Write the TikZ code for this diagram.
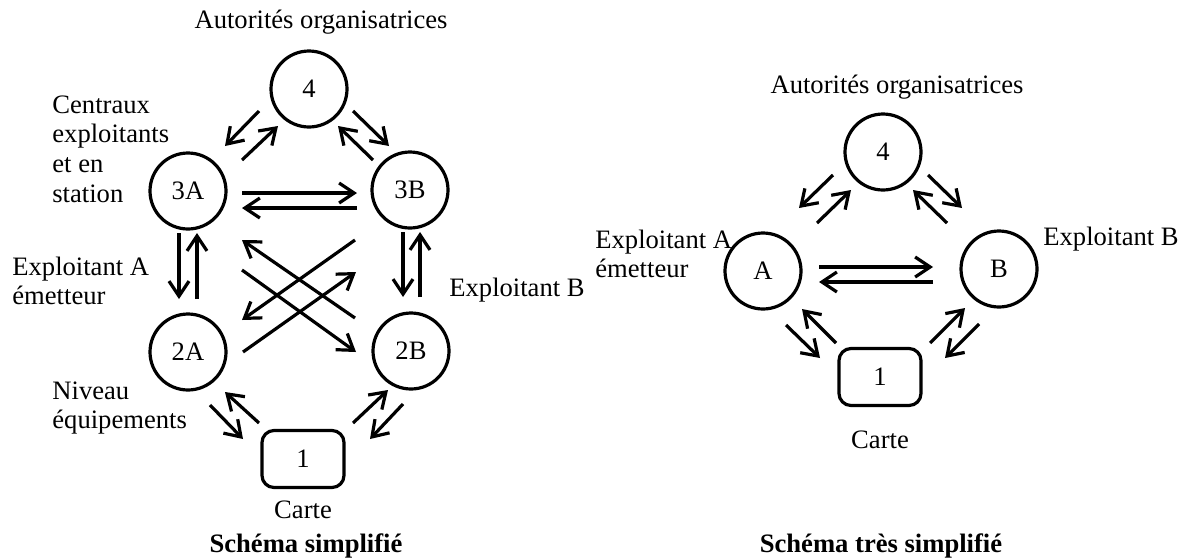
\documentclass[tikz,border=0pt]{standalone}
\usepackage{fontspec}
\setmainfont{Liberation Serif}
\usetikzlibrary{arrows.meta}
\tikzset{
  etat/.style={circle,draw,line width=1.6pt,minimum size=38pt,inner sep=0pt},
  carte/.style={rectangle,draw,rounded corners=6pt,line width=1.6pt,minimum width=41pt,minimum height=28.5pt},
  fleche/.style={line width=1.6pt,-{Straight Barb[length=7.5pt,width=10pt]}},
  legende/.style={align=left,inner sep=0pt,anchor=west},
  titre/.style={font=\fontsize{13.3}{14.8}\selectfont\bfseries}
}
\begin{document}
\begin{tikzpicture}[x=0.5pt,y=-0.5pt,font=\fontsize{13.3}{14.8}\selectfont]
        \useasboundingbox (0,0) rectangle (1182,558);

        % schema simplifie
        \node (l4) at (309,89) [etat] {4};
        \node (la3) at (188,191) [etat] {3A};
        \node (lb3) at (410,190) [etat] {3B};
        \node (la2) at (188,352) [etat] {2A};
        \node (lb2) at (411,351) [etat] {2B};
        \node (l1) at (303,459) [carte] {1};

        \node (ltaut) at (321,22) {Autorités organisatrices};
        \node (ltcen) at (52,149) [legende] {Centraux\\exploitants\\et en\\station};
        \node (ltexa) at (12,281) [legende] {Exploitant A\\émetteur};
        \node (ltniv) at (52,408) [legende] {Niveau\\équipements};
        \node (ltexb) at (449,290) [legende] {Exploitant B};
        \node (ltcar) at (303,510) {Carte};
        \node (lttit) at (306,546) [titre] {Schéma simplifié};

        \draw[fleche] ([shift={(-50,22)}]l4.center) -- ([shift={(37,-45)}]la3.center);
        \draw[fleche] ([shift={(54,-31)}]la3.center) -- ([shift={(-31,37)}]l4.center);
        \draw[fleche] ([shift={(44,22)}]l4.center) -- ([shift={(-21,-44)}]lb3.center);
        \draw[fleche] ([shift={(-37,-30)}]lb3.center) -- ([shift={(29,37)}]l4.center);
        \draw[fleche] ([shift={(54,2)}]la3.center) -- ([shift={(-53,3)}]lb3.center);
        \draw[fleche] ([shift={(-53,18)}]lb3.center) -- ([shift={(54,17)}]la3.center);
        \draw[fleche] ([shift={(-9,42)}]la3.center) -- ([shift={(-9,-53)}]la2.center);
        \draw[fleche] ([shift={(9,-53)}]la2.center) -- ([shift={(9,42)}]la3.center);
        \draw[fleche] ([shift={(-7,42)}]lb3.center) -- ([shift={(-8,-54)}]lb2.center);
        \draw[fleche] ([shift={(9,-54)}]lb2.center) -- ([shift={(10,42)}]lb3.center);
        \draw[fleche] ([shift={(-56,-33)}]lb2.center) -- ([shift={(54,49)}]la3.center);
        \draw[fleche] ([shift={(54,79)}]la3.center) -- ([shift={(-55,1)}]lb2.center);
        \draw[fleche] ([shift={(-55,50)}]lb3.center) -- ([shift={(54,-32)}]la2.center);
        \draw[fleche] ([shift={(55,0)}]la2.center) -- ([shift={(-54,82)}]lb3.center);
        \draw[fleche] ([shift={(22,53)}]la2.center) -- ([shift={(-60,-20)}]l1.center);
        \draw[fleche] ([shift={(-44,-36)}]l1.center) -- ([shift={(37,40)}]la2.center);
        \draw[fleche] ([shift={(50,-36)}]l1.center) -- ([shift={(-23,39)}]lb2.center);
        \draw[fleche] ([shift={(-8,53)}]lb2.center) -- ([shift={(67,-20)}]l1.center);

        % schema tres simplifie
        \node (r4) at (883,152) [etat] {4};
        \node (ra) at (763,271) [etat] {A};
        \node (rb) at (999,269) [etat] {B};
        \node (r1) at (880,377) [carte] {1};

        \node (rtaut) at (897,87) {Autorités organisatrices};
        \node (rtexa) at (595,254) [legende] {Exploitant A\\émetteur};
        \node (rtexb) at (1043,239) [legende] {Exploitant B};
        \node (rtcar) at (880,440) {Carte};
        \node (rttit) at (881,546) [titre] {Schéma très simplifié};

        \draw[fleche] ([shift={(-50,23)}]r4.center) -- ([shift={(36,-63)}]ra.center);
        \draw[fleche] ([shift={(54,-48)}]ra.center) -- ([shift={(-32,38)}]r4.center);
        \draw[fleche] ([shift={(45,23)}]r4.center) -- ([shift={(-37,-61)}]rb.center);
        \draw[fleche] ([shift={(-52,-46)}]rb.center) -- ([shift={(30,38)}]r4.center);
        \draw[fleche] ([shift={(56,-4)}]ra.center) -- ([shift={(-66,-2)}]rb.center);
        \draw[fleche] ([shift={(-66,13)}]rb.center) -- ([shift={(56,11)}]ra.center);
        \draw[fleche] ([shift={(23,54)}]ra.center) -- ([shift={(-60,-19)}]r1.center);
        \draw[fleche] ([shift={(-44,-34)}]r1.center) -- ([shift={(39,38)}]ra.center);
        \draw[fleche] ([shift={(50,-34)}]r1.center) -- ([shift={(-34,39)}]rb.center);
        \draw[fleche] ([shift={(-20,55)}]rb.center) -- ([shift={(65,-19)}]r1.center);
      \end{tikzpicture}
\end{document}
